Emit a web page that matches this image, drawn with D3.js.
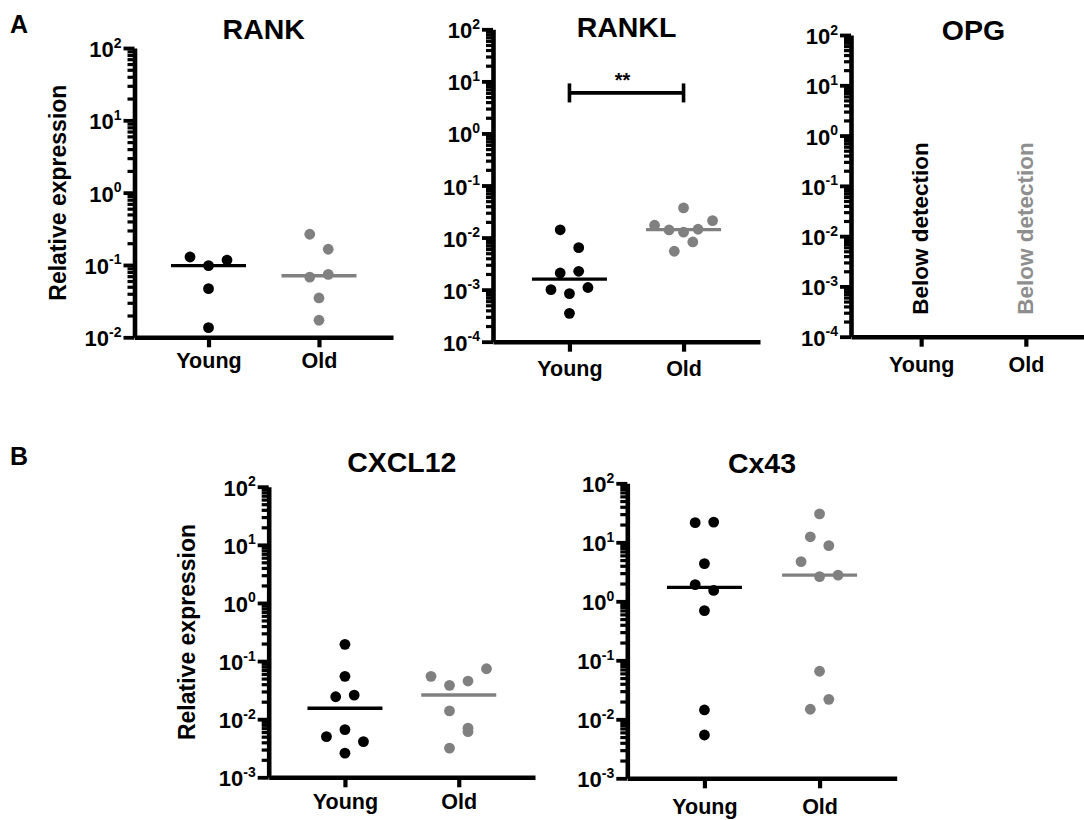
<!DOCTYPE html>
<html>
<head>
<meta charset="utf-8">
<script src="https://cdn.jsdelivr.net/npm/d3@7"></script>
<style>
  body { margin: 0; background: #fff; }
  svg text { font-family: "Liberation Sans", Arial, sans-serif; font-weight: bold; }
</style>
</head>
<body>
<svg id="fig" width="1084" height="820"></svg>
<script>
// ---- data: relative expression per sample (sample order as recorded) ----
const groups = ["Young", "Old"];

const rankYoung   = [0.129, 0.098, 0.117, 0.047, 0.0136];
const rankOld     = [0.266, 0.165, 0.068, 0.074, 0.035, 0.0172];

const ranklYoung  = [0.0141, 0.0064, 0.00209, 0.00225, 0.001, 0.00084, 0.0011, 0.00035];
const ranklOld    = [0.00546, 0.00823, 0.01725, 0.0140, 0.0127, 0.01444, 0.0212, 0.0371];

const cxcl12Young = [0.194, 0.0546, 0.0243, 0.026, 0.00662, 0.00502, 0.0026, 0.00411];
const cxcl12Old   = [0.0546, 0.0382, 0.0453, 0.0737, 0.0139, 0.0070, 0.00317, 0.00612];

const cx43Young   = [21.5, 22, 4.36, 1.92, 1.53, 0.695, 0.0144, 0.00542];
const cx43Old     = [30.3, 12.4, 8.8, 4.71, 2.62, 2.78, 0.0652, 0.0148, 0.0218];

const opgNote     = "Below detection";
const yAxisTitle  = "Relative expression";

// log axis ranges (powers of ten)
const rankDecades   = [-2, 2];
const ranklDecades  = [-4, 2];
const opgDecades    = [-4, 2];
const cxcl12Decades = [-3, 2];
const cx43Decades   = [-3, 2];

// significance bracket on RANKL
const ranklSigLevel = 6;
const ranklSigText  = "**";

// ---- styling / layout ----
const BLACK = "#000000";
const GREY  = "#808080";
const GREY_TEXT = "#8e8e8e";
const groupColor = { Young: BLACK, Old: GREY };

const DOT_R = 5.4;
const ROW_SPAN = 18.5;     // points closer than this (px) share a row
const COL_STEP = 18.5;     // horizontal spacing inside a row
const MAX_ROW_W = 58;      // widest a row may spread
const MEDIAN_HALF = 37.5;

const svg = d3.select("#fig");

const panels = [
  { title: "RANK",   young: rankYoung,   old: rankOld,   dec: rankDecades,
    x0: 134.5, x1: 393, yTop: 48, yBot: 337.3, titleY: 39, labelY: 31, yLabelX: 66 },
  { title: "RANKL",  young: ranklYoung,  old: ranklOld,  dec: ranklDecades,
    x0: 493, x1: 760, yTop: 29.3, yBot: 341.7, titleY: 36.7, labelY: 34,
    sig: { level: ranklSigLevel, text: ranklSigText } },
  { title: "OPG",    young: null, old: null, dec: opgDecades,
    x0: 851, x1: 1096, yTop: 35, yBot: 336.7, titleY: 40, labelY: 35, note: opgNote },
  { title: "CXCL12", young: cxcl12Young, old: cxcl12Old, dec: cxcl12Decades,
    x0: 268.7, x1: 535, yTop: 486.7, yBot: 777.3, titleY: 471.7, labelY: 32, yLabelX: 195 },
  { title: "Cx43",   young: cx43Young,   old: cx43Old,   dec: cx43Decades,
    x0: 627.3, x1: 896.7, yTop: 483.3, yBot: 778.3, titleY: 473, labelY: 35.5 }
];

// arrange a group's points in rows so close values spread sideways
function swarm(values, y, cx) {
  const pts = values.map((v, i) => ({ v, i, y: y(v) }));
  const rows = [];
  let cur = null;
  pts.slice().sort((a, b) => b.y - a.y).forEach(p => {
    if (cur && cur.start - p.y < ROW_SPAN) cur.items.push(p);
    else { cur = { start: p.y, items: [p] }; rows.push(cur); }
  });
  rows.forEach(r => {
    r.items.sort((a, b) => a.i - b.i);
    const n = r.items.length;
    const step = n > 1 ? Math.min(COL_STEP, MAX_ROW_W / (n - 1)) : 0;
    r.items.forEach((p, k) => { p.x = cx + (k - (n - 1) / 2) * step; });
  });
  return pts;
}

panels.forEach(P => {
  const g = svg.append("g");
  const y = d3.scaleLog()
    .domain([Math.pow(10, P.dec[0]), Math.pow(10, P.dec[1])])
    .range([P.yBot, P.yTop]);
  const x = d3.scalePoint().domain(groups).range([P.x0, P.x1]).padding(0.67);

  const majors = d3.range(P.dec[0], P.dec[1] + 1).map(e => Math.pow(10, e));
  const minors = [];
  for (let e = P.dec[0]; e < P.dec[1]; e++)
    for (let m = 2; m <= 9; m++) minors.push(m * Math.pow(10, e));

  // minor ticks
  const minorAxis = g.append("g").attr("transform", `translate(${P.x0},0)`)
    .call(d3.axisLeft(y).tickValues(minors).tickSize(7).tickSizeOuter(0).tickFormat(() => ""));
  minorAxis.select(".domain").remove();
  minorAxis.selectAll(".tick line").attr("stroke", BLACK).attr("stroke-width", 3.2);

  // major ticks + axis line
  const majorAxis = g.append("g").attr("transform", `translate(${P.x0},0)`)
    .call(d3.axisLeft(y).tickValues(majors).tickSize(11).tickSizeOuter(0).tickFormat(() => ""));
  majorAxis.select(".domain").attr("stroke", BLACK).attr("stroke-width", 4.6);
  majorAxis.selectAll(".tick line").attr("stroke", BLACK).attr("stroke-width", 3.8);
  majorAxis.selectAll(".tick text").remove();
  majorAxis.selectAll(".tick").each(function (d) {
    const t = d3.select(this).append("text")
      .attr("x", -13).attr("y", 8.5)
      .attr("text-anchor", "end")
      .attr("fill", BLACK)
      .style("font-size", "22px");
    t.append("tspan").text("10");
    t.append("tspan").attr("dy", -9.5).style("font-size", "14px")
      .text(String(Math.round(Math.log10(d))));
  });

  // category axis
  const xAxis = g.append("g").attr("transform", `translate(0,${P.yBot})`)
    .call(d3.axisBottom(x).tickSize(10).tickSizeOuter(0));
  xAxis.select(".domain").attr("stroke", BLACK).attr("stroke-width", 4.4);
  xAxis.selectAll(".tick line").attr("stroke", BLACK).attr("stroke-width", 4.2);
  xAxis.selectAll(".tick text")
    .attr("dy", null).attr("y", P.labelY)
    .attr("fill", BLACK)
    .style("font-size", "21.5px");

  // title
  g.append("text")
    .attr("x", (P.x0 + P.x1) / 2).attr("y", P.titleY)
    .attr("text-anchor", "middle")
    .style("font-size", "28.5px")
    .text(P.title);

  // y axis title
  if (P.yLabelX !== undefined) {
    g.append("text")
      .attr("transform", `translate(${P.yLabelX},${(P.yTop + P.yBot) / 2}) rotate(-90)`)
      .attr("text-anchor", "middle")
      .style("font-size", "23px")
      .text(yAxisTitle);
  }

  // groups: dots + median line
  if (P.young) {
    [["Young", P.young], ["Old", P.old]].forEach(([name, vals]) => {
      const col = groupColor[name];
      const cx = x(name);
      const pts = swarm(vals, y, cx);
      g.append("g").selectAll("circle").data(pts).join("circle")
        .attr("cx", d => d.x).attr("cy", d => d.y).attr("r", DOT_R)
        .attr("fill", col);
      const med = d3.median(vals);
      g.append("line")
        .attr("x1", cx - MEDIAN_HALF).attr("x2", cx + MEDIAN_HALF)
        .attr("y1", y(med)).attr("y2", y(med))
        .attr("stroke", col).attr("stroke-width", 3.4);
    });
  }

  // not-detected note
  if (P.note) {
    groups.forEach(name => {
      g.append("text")
        .attr("transform", `translate(${x(name) + 7},${P.yBot - 22}) rotate(-90)`)
        .attr("text-anchor", "start")
        .attr("fill", name === "Old" ? GREY_TEXT : BLACK)
        .style("font-size", "22.5px")
        .text(P.note);
    });
  }

  // significance bracket
  if (P.sig) {
    const ys = y(P.sig.level);
    const xa = x("Young"), xb = x("Old");
    const br = g.append("g").attr("stroke", BLACK).attr("stroke-width", 3.6).attr("fill", "none");
    br.append("line").attr("x1", xa).attr("x2", xb).attr("y1", ys).attr("y2", ys);
    br.append("line").attr("x1", xa).attr("x2", xa).attr("y1", ys - 9.5).attr("y2", ys + 9.5);
    br.append("line").attr("x1", xb).attr("x2", xb).attr("y1", ys - 9.5).attr("y2", ys + 9.5);
    g.append("text")
      .attr("x", (xa + xb) / 2 - 4).attr("y", ys - 6)
      .attr("text-anchor", "middle")
      .style("font-size", "20px")
      .text(P.sig.text);
  }
});

// panel letters
svg.append("text").attr("x", 10).attr("y", 33).style("font-size", "25px").text("A");
svg.append("text").attr("x", 10).attr("y", 465).style("font-size", "25px").text("B");
</script>
</body>
</html>
